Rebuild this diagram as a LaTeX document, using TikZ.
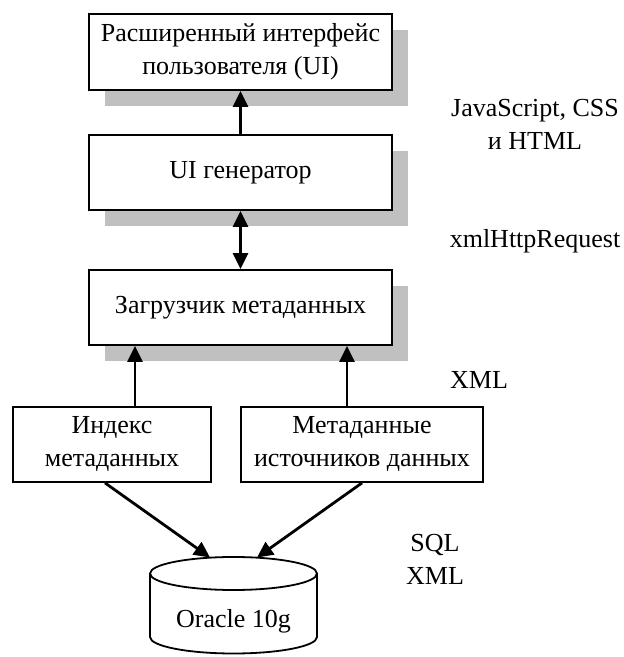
\documentclass[tikz,border=0pt]{standalone}
\usepackage{fontspec}
\setmainfont{Liberation Serif}
\usetikzlibrary{arrows.meta,shadows,calc}
\definecolor{shadowgray}{HTML}{C0C0C0}
\begin{document}
\begin{tikzpicture}[x=1pt,y=1pt,
  every node/.style={font=\fontsize{26}{33}\selectfont, inner sep=0pt},
  box/.style={draw, line width=1.8pt, fill=white, align=center},
  shbox/.style={box, drop shadow={fill=shadowgray, opacity=1, shadow xshift=15.5pt, shadow yshift=-16pt}},
  arr/.style={line width=2.8pt, -{Triangle[length=16pt,width=15pt]}},
  darr/.style={line width=2.8pt, {Triangle[length=16pt,width=15pt]}-{Triangle[length=16pt,width=15pt]}},
  lbl/.style={align=center}
]
\useasboundingbox (0,0) rectangle (624,657);

\node[shbox, minimum width=303pt, minimum height=76pt] (top) at (240.5,605) {Расширенный интерфейс\\пользователя (UI)};
\node[shbox, minimum width=303pt, minimum height=75pt] (ui) at (240.5,484.5) {UI генератор};
\node[shbox, minimum width=303pt, minimum height=75pt] (ld) at (240.5,349.5) {Загрузчик метаданных};
\node[box, minimum width=198pt, minimum height=75pt] (idx) at (112,212.5) {Индекс\\метаданных};
\node[box, minimum width=242pt, minimum height=75pt] (meta) at (362,212.5) {Метаданные\\источников данных};

% cylinder
\draw[line width=1.8pt, fill=white] (150,83.5) -- (150,20) arc[start angle=180, end angle=360, x radius=83.5, y radius=16.5] -- (317,83.5);
\draw[line width=1.8pt, fill=white] (233.5,83.5) ellipse[x radius=83.5, y radius=16.5];
\node[anchor=base] (db) at (233.5,30) {Oracle 10g};
\coordinate (dbL) at (210,99.5);
\coordinate (dbR) at (257,99.5);

% connectors
\draw[arr] (ui.north) -- (top.south);
\draw[darr] (ui.south) -- (ld.north);
\coordinate (c1) at (135,0);
\coordinate (c2) at (347,0);
\draw[arr] (idx.north -| c1) -- (ld.south -| c1);
\draw[arr] (meta.north -| c2) -- (ld.south -| c2);
\draw[arr] ($(idx.south)+(-7,0)$) -- (dbL);
\draw[arr] (meta.south) -- (dbR);

% labels
\node[lbl] (l1) at (535,533) {JavaScript, CSS\\и HTML};
\node[lbl] (l2) at (535,416) {xmlHttpRequest};
\node[lbl] (l3) at (479,277) {XML};
\node[lbl] (l4) at (435,98) {SQL\\XML};
\end{tikzpicture}
\end{document}
